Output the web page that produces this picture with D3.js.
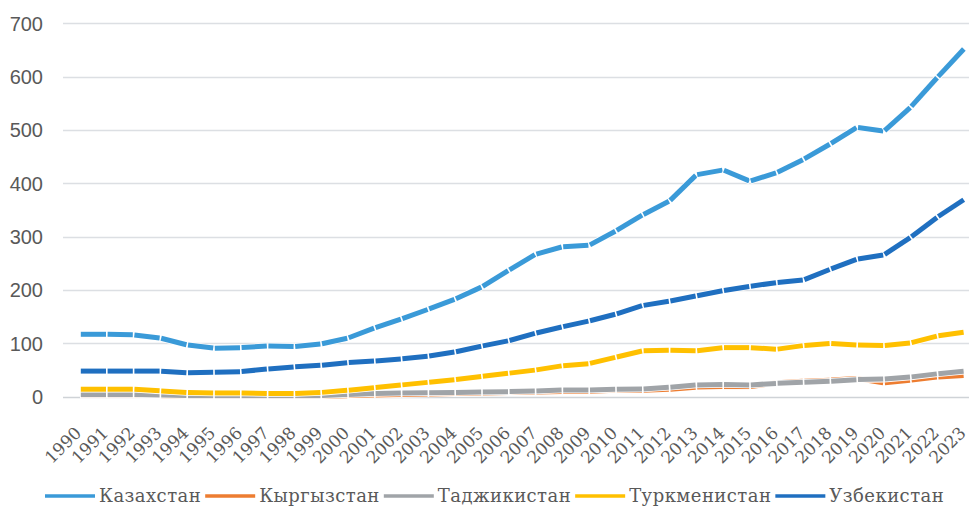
<!DOCTYPE html>
<html>
<head>
<meta charset="utf-8">
<script src="https://cdn.jsdelivr.net/npm/d3@7"></script>
<style>
  body { margin: 0; background: #fff; }
  svg { display: block; }
</style>
</head>
<body>
<div id="chart"></div>
<script>
var years = d3.range(1990, 2024);
var seriesNames = ["Казахстан", "Кыргызстан", "Таджикистан", "Туркменистан", "Узбекистан"];
var seriesColors = ["#3a9ad8", "#ed7d31", "#a0a4a8", "#ffc000", "#1f6fc0"];
var kaz = [117,117,116,110,97,91,92,95,94,99,110,129,146,164,183,206,237,267,281,284,311,341,367,416,425,404,420,445,474,505,498,543,599,653];
var kgz = [3,3,3,2,1,1,1,1,1,1,2,3,4,5,6,7,8,9,10,10,12,12,14,18,19,19,26,29,31,34,26,31,37,40];
var tjk = [4,4,4,3,2,2,2,2,2,2,4,6,7,7.5,8,9,9.5,10.7,12.5,12.5,13.8,14.4,17.6,22,23,22,25,27,29,32,33,37,43,48];
var tkm = [14,14,14,11,8,7,7,6,6,8,12,17,22,27,32,38,44,50,58,62,74,86,87,86,92,92,89,96,100,97,96,101,114,121];
var uzb = [48,48,48,48,45,46,47,52,56,59,64,67,71,76,84,95,105,119,131,142,155,171,179,189,199,207,214,219,239,258,266,299,337,370];
var yTicks = [0,100,200,300,400,500,600,700];

var allSeries = [kaz, kgz, tjk, tkm, uzb];

var W = 969, H = 509;
var plotLeft = 63, plotRight = 969;

var svg = d3.select("#chart").append("svg")
  .attr("width", W).attr("height", H);

var x = d3.scalePoint().domain(years).range([80, 964.4]);
var y = d3.scaleLinear().domain([0, 700]).range([396.7, 23.3]);

// gridlines
svg.append("g").selectAll("line")
  .data(yTicks)
  .enter().append("line")
  .attr("x1", plotLeft).attr("x2", plotRight)
  .attr("y1", function(d){ return Math.round(y(d)) + 0.5; })
  .attr("y2", function(d){ return Math.round(y(d)) + 0.5; })
  .style("stroke", function(d){ return d === 0 ? "#cfd3d7" : "#dcdfe3"; })
  .style("stroke-width", 1.5);

// y labels
svg.append("g").selectAll("text")
  .data(yTicks)
  .enter().append("text")
  .attr("x", 43)
  .attr("y", function(d){ return y(d); })
  .attr("dy", "0.36em")
  .attr("text-anchor", "end")
  .style("font-family", "'Liberation Sans', Arial, sans-serif")
  .style("font-size", "20px")
  .style("fill", "#595959")
  .text(function(d){ return d; });

// x labels
svg.append("g").selectAll("text")
  .data(years)
  .enter().append("text")
  .attr("transform", function(d){ return "translate(" + (x(d) + 2.5) + ",434) rotate(-45)"; })
  .attr("text-anchor", "end")
  .style("font-family", "'DejaVu Serif', serif")
  .style("font-size", "17px")
  .style("fill", "#595959")
  .text(function(d){ return d; });

// lines, drawn segment by segment with a white border like the original
var sw = 5;
allSeries.forEach(function(vals, si) {
  var g = svg.append("g");
  for (var i = 0; i < vals.length - 1; i++) {
    var x0 = x(years[i]), y0 = y(vals[i]);
    var x1 = x(years[i + 1]), y1 = y(vals[i + 1]);
    var len = Math.sqrt((x1 - x0) * (x1 - x0) + (y1 - y0) * (y1 - y0));
    var ux = (x1 - x0) / len, uy = (y1 - y0) / len;
    var s = 0.8;
    g.append("line")
      .attr("x1", x0).attr("y1", y0).attr("x2", x1).attr("y2", y1)
      .style("stroke", "#fff").style("stroke-width", sw + 1.6);
    g.append("line")
      .attr("x1", x0 + ux * s).attr("y1", y0 + uy * s)
      .attr("x2", x1 - ux * s).attr("y2", y1 - uy * s)
      .style("stroke", seriesColors[si]).style("stroke-width", sw);
  }
});

// legend
var lg = svg.append("g");
var cx = 45, ly = 496;
seriesNames.forEach(function(n, i) {
  lg.append("line")
    .attr("x1", cx).attr("x2", cx + 50)
    .attr("y1", ly).attr("y2", ly)
    .style("stroke", seriesColors[i]).style("stroke-width", 3.5);
  var t = lg.append("text")
    .attr("x", cx + 54).attr("y", ly).attr("dy", "0.35em")
    .style("font-family", "'DejaVu Serif', serif")
    .style("font-size", "18px")
    .style("letter-spacing", "0.45px")
    .style("fill", "#595959")
    .text(n);
  cx = cx + 54 + t.node().getComputedTextLength() + 4;
});
</script>
</body>
</html>
